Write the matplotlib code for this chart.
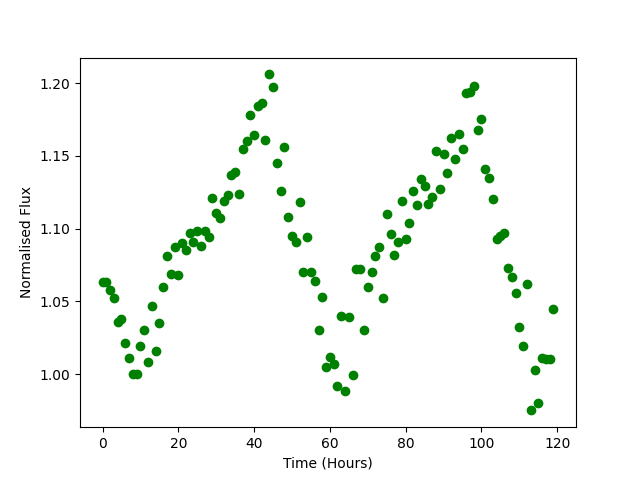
import numpy as np
import matplotlib
matplotlib.use("Agg")
import matplotlib.pyplot as plt

# Hourly flux measurements (normalised)
time_hours = np.arange(120)
flux = [
    1.063, 1.063, 1.058, 1.052, 1.036, 1.038, 1.021, 1.011, 1.000, 1.000,
    1.019, 1.030, 1.008, 1.047, 1.016, 1.035, 1.060, 1.081, 1.069, 1.087,
    1.068, 1.090, 1.085, 1.097, 1.091, 1.098, 1.088, 1.098, 1.094, 1.121,
    1.111, 1.107, 1.119, 1.123, 1.137, 1.139, 1.124, 1.155, 1.160, 1.178,
    1.164, 1.184, 1.186, 1.161, 1.206, 1.197, 1.145, 1.126, 1.156, 1.108,
    1.095, 1.091, 1.118, 1.070, 1.094, 1.070, 1.064, 1.030, 1.053, 1.005,
    1.012, 1.007, 0.992, 1.040, 0.988, 1.039, 0.999, 1.072, 1.072, 1.030,
    1.060, 1.070, 1.081, 1.087, 1.052, 1.110, 1.096, 1.082, 1.091, 1.119,
    1.093, 1.104, 1.126, 1.116, 1.134, 1.129, 1.117, 1.122, 1.153, 1.127,
    1.151, 1.138, 1.162, 1.148, 1.165, 1.155, 1.193, 1.194, 1.198, 1.168,
    1.175, 1.141, 1.135, 1.120, 1.093, 1.095, 1.097, 1.073, 1.067, 1.056,
    1.032, 1.019, 1.062, 0.975, 1.003, 0.980, 1.011, 1.010, 1.010, 1.045,
]

plt.figure(figsize=(6.4, 4.8), dpi=100)
plt.plot(time_hours, flux, "go")
plt.xlabel("Time (Hours)")
plt.ylabel("Normalised Flux")
plt.savefig("out.png", dpi=100)
plt.close()
